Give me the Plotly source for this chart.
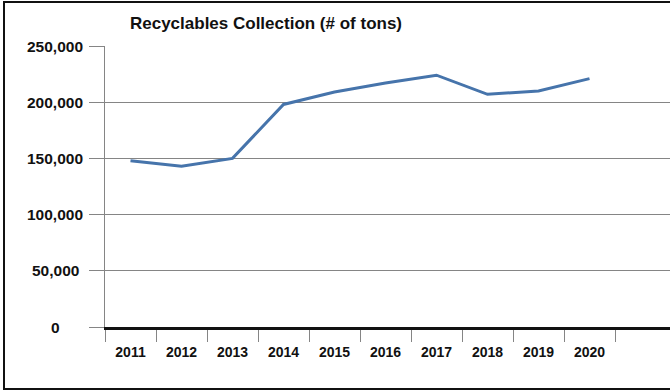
import plotly.graph_objects as go

years = ["2011", "2012", "2013", "2014", "2015", "2016", "2017", "2018", "2019", "2020"]
tons = [148000, 143000, 150000, 198000, 209000, 217000, 224000, 207000, 210000, 221000]
y_ticks = [0, 50000, 100000, 150000, 200000, 250000]
y_tick_labels = ["0", "50,000", "100,000", "150,000", "200,000", "250,000"]
title_text = "Recyclables Collection (# of tons)"

FONT = "Liberation Sans, Arial, sans-serif"
GRID = "#858585"

W, H = 670, 391
L, R, T, B = 105, 0, 46, 64
plot_w = W - L - R
plot_h = H - T - B
cat_w = 51.0

fig = go.Figure()
fig.add_trace(go.Scatter(
    x=years, y=tons, mode="lines",
    line=dict(color="#4674AB", width=3),
    showlegend=False, hoverinfo="x+y",
))

fig.update_layout(
    width=W, height=H,
    margin=dict(l=L, r=R, t=T, b=B),
    paper_bgcolor="white", plot_bgcolor="white",
    title=dict(text="<b>" + title_text + "</b>", x=266 / W, xref="container", xanchor="center",
               y=1 - 23 / H, yref="container", yanchor="middle",
               font=dict(family=FONT, size=17, color="#111111")),
    xaxis=dict(
        type="category", categoryorder="array", categoryarray=years,
        range=[-0.5, -0.5 + plot_w / cat_w],
        tickson="boundaries", ticks="outside", ticklen=12, tickwidth=1, tickcolor=GRID,
        showline=True, linecolor="#111111", linewidth=2.5,
        showgrid=False, zeroline=False,
        tickfont=dict(family=FONT, size=14, color="#111111", weight="bold"),
        ticklabelstandoff=10,
    ),
    yaxis=dict(
        range=[0, 250000], tickvals=y_ticks, showticklabels=False,
        ticks="outside", ticklen=15, tickwidth=1, tickcolor=GRID,
        showline=True, linecolor=GRID, linewidth=1,
        showgrid=True, gridcolor=GRID, gridwidth=1, zeroline=False,
    ),
)

for v, lab in zip(y_ticks, y_tick_labels):
    fig.add_annotation(
        x=(55 - L) / plot_w, xref="paper", y=v, yref="y",
        text="<b>" + lab + "</b>", showarrow=False,
        xanchor="center", yanchor="middle",
        font=dict(family=FONT, size=15.5, color="#111111"),
    )

# outer frame
fig.add_shape(type="rect", xref="paper", yref="paper",
              x0=(4 - L) / plot_w, x1=1.05,
              y0=-(389 - (T + plot_h)) / plot_h, y1=1 + (T - 2) / plot_h,
              line=dict(color="#111111", width=2), fillcolor="rgba(0,0,0,0)", layer="above")

fig.write_html("out.html", config={"displayModeBar": False},
               post_script="document.body.style.margin='0';document.body.style.overflow='hidden';")
